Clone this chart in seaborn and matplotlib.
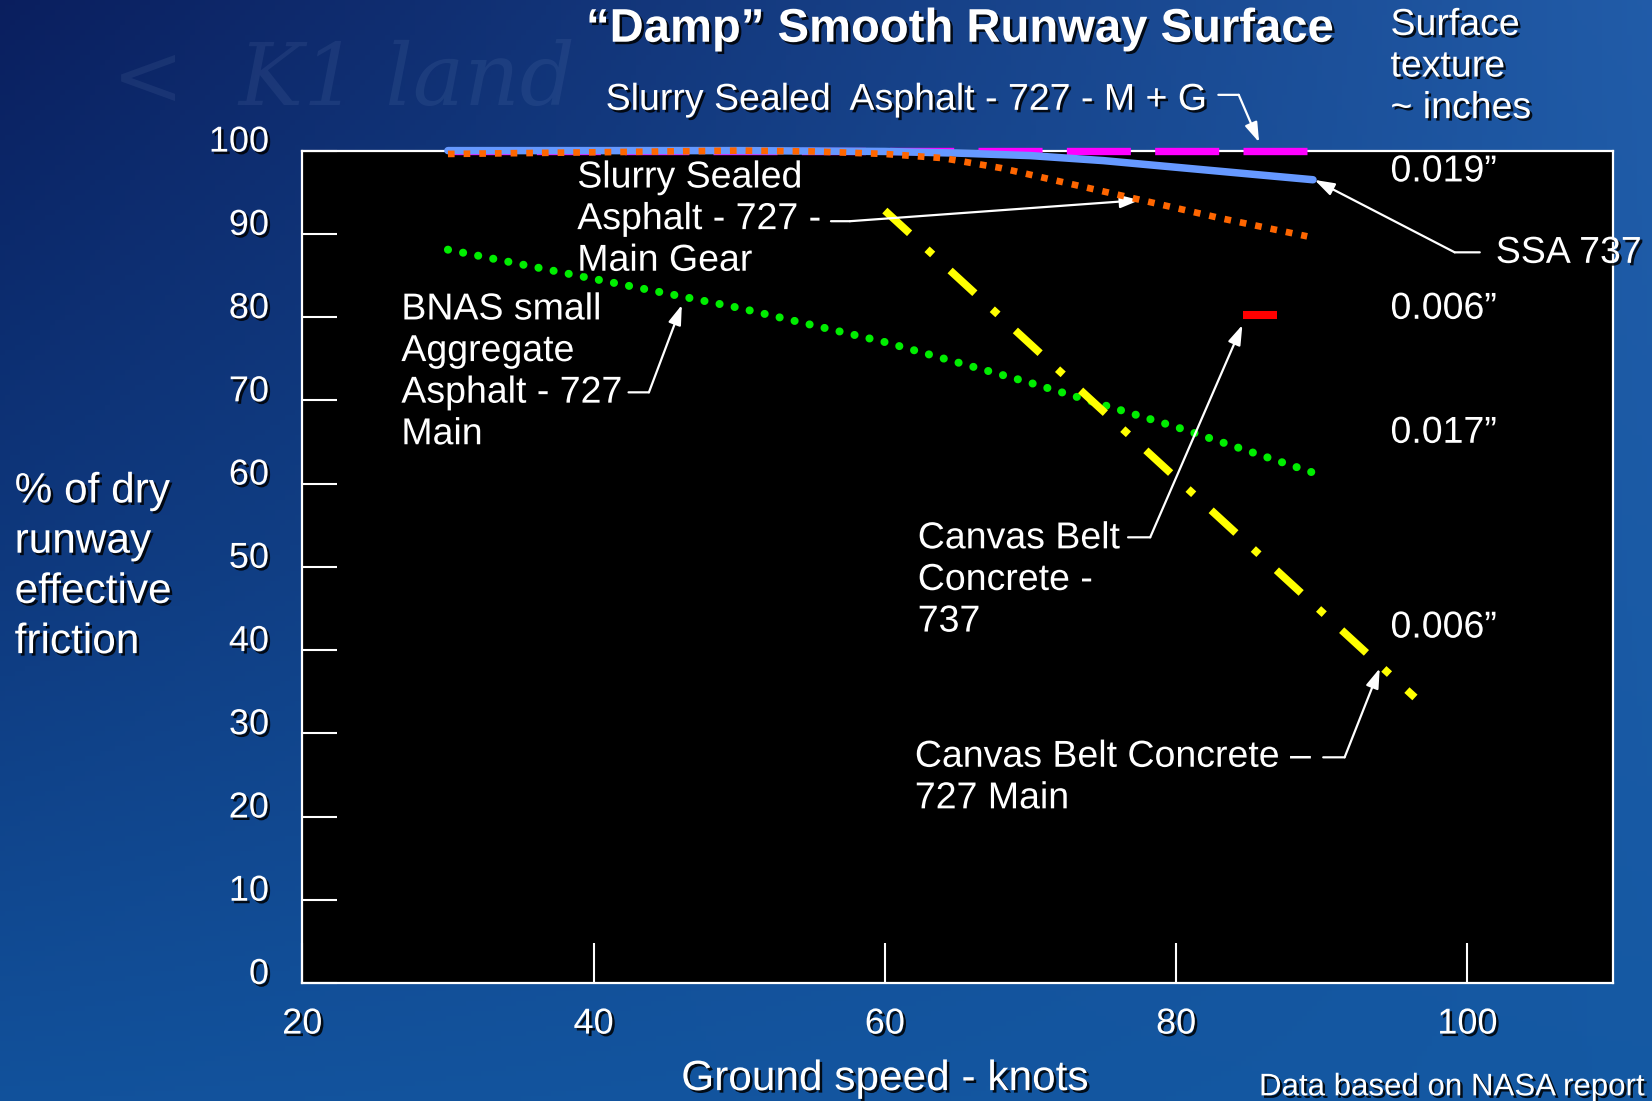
import numpy as np
import matplotlib
matplotlib.use("Agg")
import matplotlib.pyplot as plt
import matplotlib.patheffects as pe
import matplotlib.transforms as mtransforms
import seaborn as sns

# ground speed (knots) vs % of dry runway effective friction
ssa_mg_speed = [30, 89]
ssa_mg_friction = [100, 100]

ssa737_speed = [30, 40, 50, 60, 65, 70, 75, 80, 85, 89.4]
ssa737_friction = [100, 100, 100, 99.9, 99.7, 99.4, 98.8, 98.0, 97.2, 96.5]

ssa727_speed = [30, 40, 50, 55, 60, 64, 68, 72, 77.5, 83, 89]
ssa727_friction = [99.6, 99.8, 100, 99.9, 99.6, 99.1, 97.9, 96.3, 94.1, 91.9, 89.7]

bnas_speed = [30, 40, 50, 60, 70, 80, 89.6]
bnas_friction = [88.1, 84.6, 81.1, 77.0, 72.1, 66.8, 61.2]

cbc727_speed = [60, 96.4]
cbc727_friction = [92.8, 34.3]

cbc737_speed = [84.6, 86.9]
cbc737_friction = [80.2, 80.2]

x_ticks = [20, 40, 60, 80, 100]
y_ticks = [0, 10, 20, 30, 40, 50, 60, 70, 80, 90, 100]
texture_labels = ['0.019\u201d', '0.006\u201d', '0.017\u201d', '0.006\u201d']
texture_levels = [97.5, 81.0, 66.1, 42.7]

sns.set_theme(style='dark')
plt.rcParams['font.family'] = ['Liberation Sans', 'DejaVu Sans']

fig = plt.figure(figsize=(16.52, 11.01), dpi=100)

# slide background (blue gradient)
bg = fig.add_axes([0, 0, 1, 1], zorder=-10)
tl = np.array([0.04, 0.12, 0.37])
tr = np.array([0.13, 0.36, 0.66])
bl = np.array([0.07, 0.32, 0.61])
br = np.array([0.08, 0.35, 0.64])
v, u = np.mgrid[0:1:220j, 0:1:330j]
img = ((1 - u)[..., None] * (1 - v)[..., None] * tl + u[..., None] * (1 - v)[..., None] * tr
       + (1 - u)[..., None] * v[..., None] * bl + u[..., None] * v[..., None] * br)
bg.imshow(img, aspect='auto', extent=[0, 1, 0, 1], origin='upper')
bg.axis('off')
fig.text(0.068, 0.905, '<  K1 land', fontsize=62, style='italic', family='DejaVu Serif',
         color='#9fb8e0', alpha=0.09, va='baseline')

shadow = [pe.withSimplePatchShadow(offset=(1.8, -1.8), shadow_rgbFace='black', alpha=0.85)]

ax = fig.add_axes([0.1830, 0.1072, 0.7934, 0.7560])
ax.set_facecolor('black')

sns.lineplot(x=ssa_mg_speed, y=ssa_mg_friction, ax=ax, color='#ff00ff', linewidth=5.3,
             linestyle=(0, (8.7, 3.3)), dash_capstyle='butt', clip_on=False, zorder=3)
sns.lineplot(x=ssa737_speed, y=ssa737_friction, ax=ax, color='#6699ff', linewidth=5.4,
             clip_on=False, zorder=3.1)
sns.lineplot(x=ssa727_speed, y=ssa727_friction, ax=ax, color='#ff6600', linewidth=4.8,
             linestyle=(0, (1, 1.35)), dash_capstyle='butt', clip_on=False, zorder=3.2)
sns.lineplot(x=bnas_speed, y=bnas_friction, ax=ax, color='#00ee00', linewidth=5.8,
             linestyle=(0, (0.01, 1.9)), dash_capstyle='round', zorder=3)
sns.lineplot(x=cbc727_speed, y=cbc727_friction, ax=ax, color='#ffff00', linewidth=5.5,
             linestyle=(0, (4.4, 3.1, 1.0, 3.1)), dash_capstyle='butt', zorder=3)
sns.lineplot(x=cbc737_speed, y=cbc737_friction, ax=ax, color='#ff0000', linewidth=5.8,
             solid_capstyle='butt', zorder=3)

ax.set_xlim(20, 110)
ax.set_ylim(0, 100)
for s in ax.spines.values():
    s.set_visible(True)
    s.set_color('white')
    s.set_linewidth(1.6)
ax.grid(False)

ax.set_xticks(x_ticks, [str(t) for t in x_ticks])
ax.set_yticks(y_ticks, [str(t) for t in y_ticks])
ax.tick_params(axis='x', direction='in', length=29, width=1.5, color='white',
               labelcolor='white', labelsize=26, pad=17, bottom=True)
ax.tick_params(axis='y', direction='in', length=25, width=1.5, color='white',
               labelcolor='white', labelsize=26, pad=24, left=True)
lift = mtransforms.ScaledTranslation(0, 9 / 72, fig.dpi_scale_trans)
for lbl in ax.get_yticklabels():
    lbl.set_transform(lbl.get_transform() + lift)
for lbl in ax.get_xticklabels() + ax.get_yticklabels():
    lbl.set_path_effects(shadow)

ax.set_xlabel('Ground speed - knots', fontsize=30.5, color='white', path_effects=shadow)
ax.xaxis.set_label_coords(0.4445, -0.1155)
ax.xaxis.label.set_va('center')
ax.set_ylabel('% of dry\nrunway\neffective\nfriction', fontsize=30.5, color='white',
              rotation=0, ha='left', va='center', multialignment='left',
              linespacing=1.33, path_effects=shadow)
ax.yaxis.set_label_coords(-0.2195, 0.5)

fig.text(0.581, 0.973, '\u201cDamp\u201d Smooth Runway Surface', fontsize=34, weight='bold',
         color='white', ha='center', va='center', path_effects=shadow)
fig.text(0.7621, 0.0124, 'Data based on NASA report', fontsize=22.5, color='white',
         ha='left', va='center', path_effects=shadow)

txt = dict(fontsize=27, color='white', ha='left', va='center', linespacing=1.2,
           path_effects=shadow, clip_on=False)
ax.text(40.83, 106.1, 'Slurry Sealed  Asphalt - 727 - M + G', **txt)
ax.text(38.88, 91.77, 'Slurry Sealed\nAsphalt - 727 -\nMain Gear', **txt)
ax.text(26.8, 73.42, 'BNAS small\nAggregate\nAsphalt - 727\nMain', **txt)
ax.text(62.26, 48.42, 'Canvas Belt\nConcrete -\n737', **txt)
ax.text(62.06, 24.68, 'Canvas Belt Concrete \u2013\n727 Main', **txt)
ax.text(101.95, 87.72, 'SSA 737', **txt)
ax.text(94.72, 110.1, 'Surface\ntexture\n~ inches', **txt)
for lab, lev in zip(texture_labels, texture_levels):
    ax.text(94.72, lev, lab, **txt)

leg_kw = dict(arrowstyle='-', color='white', lw=1.6, shrinkA=0, shrinkB=0)
arrow_kw = dict(arrowstyle='-|>,head_length=0.85,head_width=0.28', color='white', lw=1.6,
                shrinkA=0, shrinkB=0, mutation_scale=14)


def leader(start, knee, tip):
    ax.annotate('', xy=knee, xytext=start, arrowprops=leg_kw, annotation_clip=False)
    ax.annotate('', xy=tip, xytext=knee, arrowprops=arrow_kw, annotation_clip=False)


leader((82.9, 106.7), (84.3, 106.7), (85.7, 101.0))
leader((56.3, 91.52), (57.6, 91.52), (77.5, 94.05))
leader((42.4, 70.96), (43.8, 70.96), (46.06, 81.46))
leader((76.7, 53.54), (78.22, 53.54), (84.55, 79.05))
leader((90.1, 27.11), (91.57, 27.11), (93.98, 37.8))
leader((100.85, 87.78), (99.13, 87.78), (89.51, 96.48))

fig.savefig('out.png', dpi=100)
